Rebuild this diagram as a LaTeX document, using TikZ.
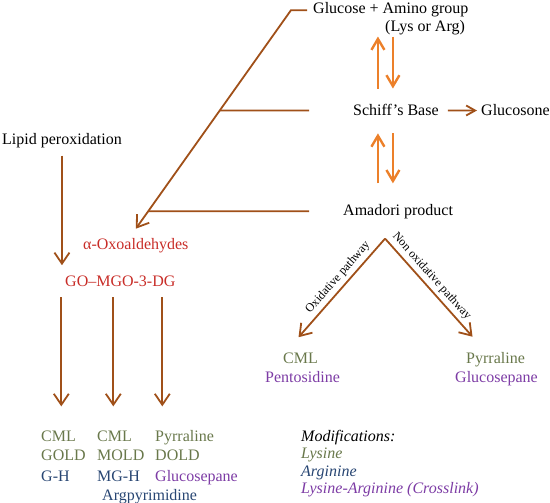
\documentclass[tikz,border=0pt]{standalone}
\usepackage{fontspec}
\setmainfont{Liberation Serif}
\usetikzlibrary{arrows.meta}
\definecolor{brn}{RGB}{160,80,25}
\definecolor{orng}{RGB}{236,128,42}
\definecolor{redc}{RGB}{200,45,40}
\definecolor{lysc}{RGB}{105,120,75}
\definecolor{argc}{RGB}{40,70,115}
\definecolor{xlc}{RGB}{125,60,165}
\begin{document}
\begin{tikzpicture}[
  x=1pt, y=-1pt,
  lbl/.style={anchor=base west, inner sep=0pt, font=\fontsize{16}{19}\selectfont},
  redtxt/.style={lbl, text=redc},
  lysmod/.style={lbl, text=lysc},
  argmod/.style={lbl, text=argc},
  xlmod/.style={lbl, text=xlc},
  legendtxt/.style={lbl, font=\fontsize{16}{19}\selectfont\itshape},
  pathlbl/.style={font=\fontsize{12}{14}\selectfont},
  brline/.style={draw=brn, line width=1.8pt},
  brarrow/.style={brline, -{Straight Barb[length=11pt,width=15pt]}},
  brsmall/.style={brline, -{Straight Barb[length=9pt,width=10pt]}},
  orarrow/.style={draw=orng, line width=2.4pt, -{Straight Barb[length=11pt,width=13pt]}}
]
  \useasboundingbox (0,0) rectangle (550,503);

  % glycation chain
  \node[lbl] (glu) at (313,14) {Glucose + Amino group};
  \node[lbl] (lys) at (385,32) {(Lys or Arg)};
  \node[lbl] (schiff) at (353,116) {Schiff’s Base};
  \node[lbl] (gsone) at (481,116) {Glucosone};
  \node[lbl] (amadori) at (343,215) {Amadori product};

  % dicarbonyl branch
  \node[lbl] (lipid) at (2,145) {Lipid peroxidation};
  \node[redtxt] (oxo) at (83,250) {α-Oxoaldehydes};
  \node[redtxt] (go) at (65,287) {GO–MGO-3-DG};

  % end products
  \node[lysmod] (cml1) at (41,441) {CML};
  \node[lysmod] (gold) at (41,460) {GOLD};
  \node[argmod] (gh) at (41,481) {G-H};
  \node[lysmod] (cml3) at (97,441) {CML};
  \node[lysmod] (mold) at (97,460) {MOLD};
  \node[argmod] (mgh) at (97,481) {MG-H};
  \node[argmod] (argpy) at (102,500) {Argpyrimidine};
  \node[lysmod] (pyr1) at (155,441) {Pyrraline};
  \node[lysmod] (dold) at (155,460) {DOLD};
  \node[xlmod] (gsp1) at (155,481) {Glucosepane};

  \node[lysmod] (cml2) at (283,363) {CML};
  \node[xlmod] (pent) at (265,382) {Pentosidine};
  \node[lysmod] (pyr2) at (466,363) {Pyrraline};
  \node[xlmod] (gsp2) at (455,382) {Glucosepane};

  % legend
  \node[legendtxt] (mod) at (301,441) {Modifications:};
  \node[legendtxt, text=lysc] (lysl) at (301,458) {Lysine};
  \node[legendtxt, text=argc] (argl) at (301,476) {Arginine};
  \node[legendtxt, text=xlc] (xll) at (301,493) {Lysine-Arginine (Crosslink)};

  % feeding lines into alpha-oxoaldehydes
  \coordinate (k1) at ([xshift=-22pt]glu.west);
  \coordinate (tip) at ([yshift=10pt]oxo.north);
  \draw[brarrow] ([xshift=-6pt]glu.west) -- (k1) -- (tip);
  \draw[brline] ([xshift=-44pt]schiff.west) -- (intersection of k1--tip and schiff.west--schiff.east);
  \draw[brline] ([xshift=-34pt]amadori.west) -- (intersection of k1--tip and amadori.west--amadori.east);

  % reversible steps
  \draw[orarrow] ([xshift=-18pt,yshift=16pt]schiff.north) -- ++(0,-52);
  \draw[orarrow] ([xshift=-3pt,yshift=68pt]schiff.north) -- ++(0,52);
  \draw[orarrow] ([xshift=-18pt,yshift=-67pt]schiff.south) -- ++(0,-50);
  \draw[orarrow] ([xshift=-3pt,yshift=-17pt]schiff.south) -- ++(0,50);
  \draw[brsmall, shorten <=9pt, shorten >=4pt] (schiff.east) -- (gsone.west);

  % Amadori pathways
  \coordinate (apex) at ([xshift=-13pt,yshift=-20pt]amadori.south);
  \draw[brarrow] (apex) -- ([xshift=-2pt,yshift=15pt]cml2.north)
    node[pathlbl, pos=0.46, sloped, above] {Oxidative pathway};
  \draw[brarrow] (apex) -- ([xshift=-23pt,yshift=15pt]pyr2.north)
    node[pathlbl, pos=0.45, sloped, above] {Non oxidative pathway};

  % lipid and dicarbonyl arrows
  \draw[brarrow, shorten <=7pt, shorten >=11pt] (lipid.south) -- (lipid.south |- go.north);
  \foreach \dx in {-59,-7,42}
    \draw[brarrow] ([xshift=\dx pt, yshift=-10pt]go.south) -- ++(0,109);
\end{tikzpicture}
\end{document}
